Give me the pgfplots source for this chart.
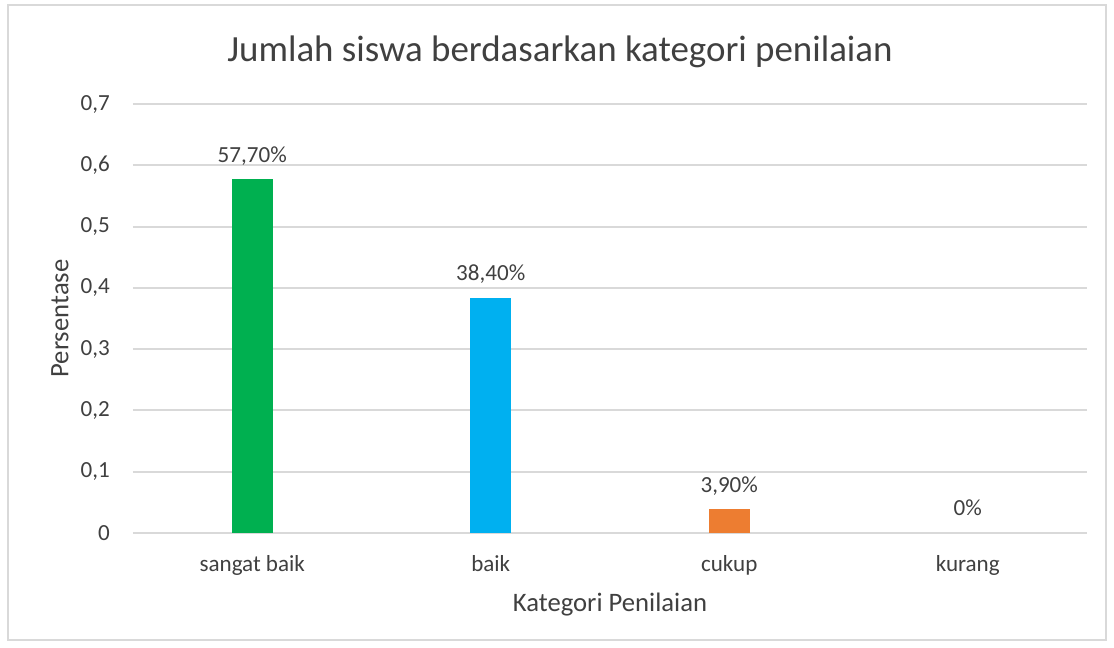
\documentclass[border=0pt]{standalone}
\usepackage{pgfplots}
\pgfplotsset{compat=1.18}
\usepackage{fontspec}
\setmainfont{Carlito}
\definecolor{txt}{HTML}{404040}
\definecolor{grd}{HTML}{D9D9D9}
\definecolor{cgreen}{HTML}{00B050}
\definecolor{cblue}{HTML}{00B0F0}
\definecolor{corange}{HTML}{ED7D31}
\begin{document}
\begin{tikzpicture}
\begin{axis}[
  at={(0,0)}, anchor=south west,
  scale only axis, width=715.5pt, height=321.75pt,
  xmin=-0.5, xmax=3.5, ymin=0, ymax=0.7,
  ytick={0,0.1,0.2,0.3,0.4,0.5,0.6,0.7},
  xtick={0,1,2,3},
  xticklabels={sangat baik, baik, cukup, kurang},
  axis line style={draw=none},
  major tick length=0pt,
  ymajorgrids, grid style={draw=grd, line width=1.5pt},
  /pgf/number format/.cd, assume math mode=true, use comma, fixed, precision=1,
  /pgfplots/.cd,
  tick label style={font=\fontsize{17.3}{20}\selectfont, text=txt},
  yticklabel style={anchor=east, inner xsep=0pt, xshift=-17.25pt},
  xticklabel style={anchor=base, yshift=-29.25pt},
  title={Jumlah siswa berdasarkan kategori penilaian},
  title style={at={(axis description cs:0.4476,1.1026)}, anchor=center, font=\fontsize{27.7}{32}\selectfont, text=txt},
  xlabel={Kategori Penilaian},
  ylabel={Persentase},
  every axis x label/.style={at={(axis description cs:0.5,-0.1678)}, anchor=center, font=\fontsize{20}{24}\selectfont, text=txt},
  every axis y label/.style={at={(axis description cs:-0.0765,0.5)}, anchor=center, rotate=90, font=\fontsize{20}{24}\selectfont, text=txt},
  ybar, bar width=31pt, bar shift=0pt,
  point meta=explicit symbolic,
  nodes near coords,
  every node near coord/.append style={anchor=base, yshift=12.75pt, font=\fontsize{17.3}{20}\selectfont, text=txt},
]
\addplot[fill=cgreen, draw=none] coordinates {(0,0.577) [57,70\%]};
\addplot[fill=cblue, draw=none] coordinates {(1,0.384) [38,40\%]};
\addplot[fill=corange, draw=none] coordinates {(2,0.039) [3,90\%]};
\addplot[fill=none, draw=none] coordinates {(3,0) [0\%]};
\end{axis}
\draw[color=grd, line width=1.5pt] (-93.75pt,-80.25pt) rectangle (729.75pt,396pt);
\path (-99.75pt,-86.25pt) rectangle (735.75pt,399.75pt);
\end{tikzpicture}
\end{document}
